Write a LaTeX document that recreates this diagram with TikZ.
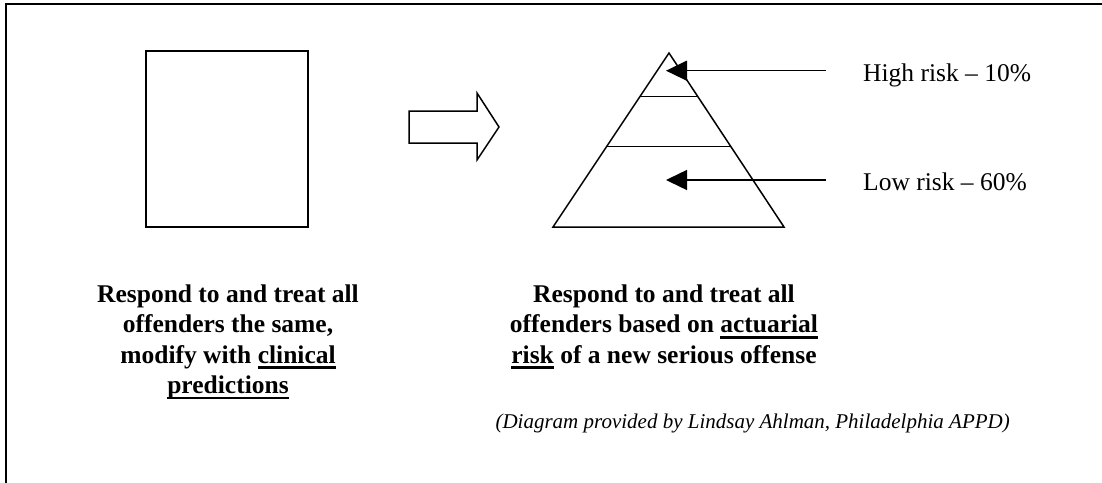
\documentclass[tikz,border=0pt]{standalone}
\usepackage{fontspec}
\setmainfont{Liberation Serif}
\usetikzlibrary{arrows.meta,calc}
\newcommand\myul[1]{\setbox0=\hbox{#1}\rlap{\rule[-6pt]{\wd0}{2.6pt}}\box0\relax}
\begin{document}
\begin{tikzpicture}[x=1pt,y=-1pt,
  shapeline/.style={line width=1.5pt, line join=miter},
  pointer/.style={line width=1.5pt, -{Triangle[length=21pt,width=20pt]}},
  bodytext/.style={font=\fontsize{25.5}{30.3}\selectfont\bfseries, align=center, inner sep=0pt, anchor=north},
  risklabel/.style={font=\fontsize{25.5}{30}\selectfont, inner sep=0pt, anchor=base west},
  credit/.style={font=\fontsize{21}{25}\selectfont\itshape, inner sep=0pt, anchor=base east},
]
\useasboundingbox (0,0) rectangle (1102,482);
\fill[white] (0,0) rectangle (1102,482);
\begin{scope}
\clip (0,0) rectangle (1102,482);
\draw[line width=2.2pt] (6,4) rectangle (1120,500);
\end{scope}

% square
\node[draw, line width=1.5pt, minimum width=162pt, minimum height=176pt, inner sep=0pt, anchor=north west] (square) at (145,50) {};

% block arrow
\draw[shapeline] (409,111) -- (477,111) -- (477,93) -- (499,127) -- (477,160) -- (477,143) -- (409,143) -- cycle;

% pyramid
\coordinate (apex) at (669,53);
\coordinate (bl) at (553,227);
\coordinate (br) at (784,227);
\draw[shapeline] (apex) -- (br) -- (bl) -- cycle;
\draw[line width=1.5pt] ($(apex)!0.251!(bl)$) -- ($(apex)!0.251!(br)$);
\draw[line width=1.5pt] ($(apex)!0.538!(bl)$) -- ($(apex)!0.538!(br)$);

% pointers
\coordinate (hiStart) at (826,70.7);
\coordinate (hiTip) at (666,70.7);
\coordinate (loStart) at (826,180);
\coordinate (loTip) at (666,180);
\draw[pointer] (hiStart) -- (hiTip);
\draw[pointer] (loStart) -- (loTip);

\node[risklabel] (high) at (863,81.7) {High risk \textendash\ 10\%};
\node[risklabel] (low) at (863,190.7) {Low risk \textendash\ 60\%};

\node[bodytext] (lefttext) at (228,284.5) {Respond to and treat all\\offenders the same,\\modify with \myul{clinical}\\\myul{predictions}};
\node[bodytext] (righttext) at (664,284.5) {Respond to and treat all\\offenders based on \myul{actuarial}\\\myul{risk} of a new serious offense};

\node[credit] (source) at (1010,428) {(Diagram provided by Lindsay Ahlman, Philadelphia APPD)};
\end{tikzpicture}
\end{document}
